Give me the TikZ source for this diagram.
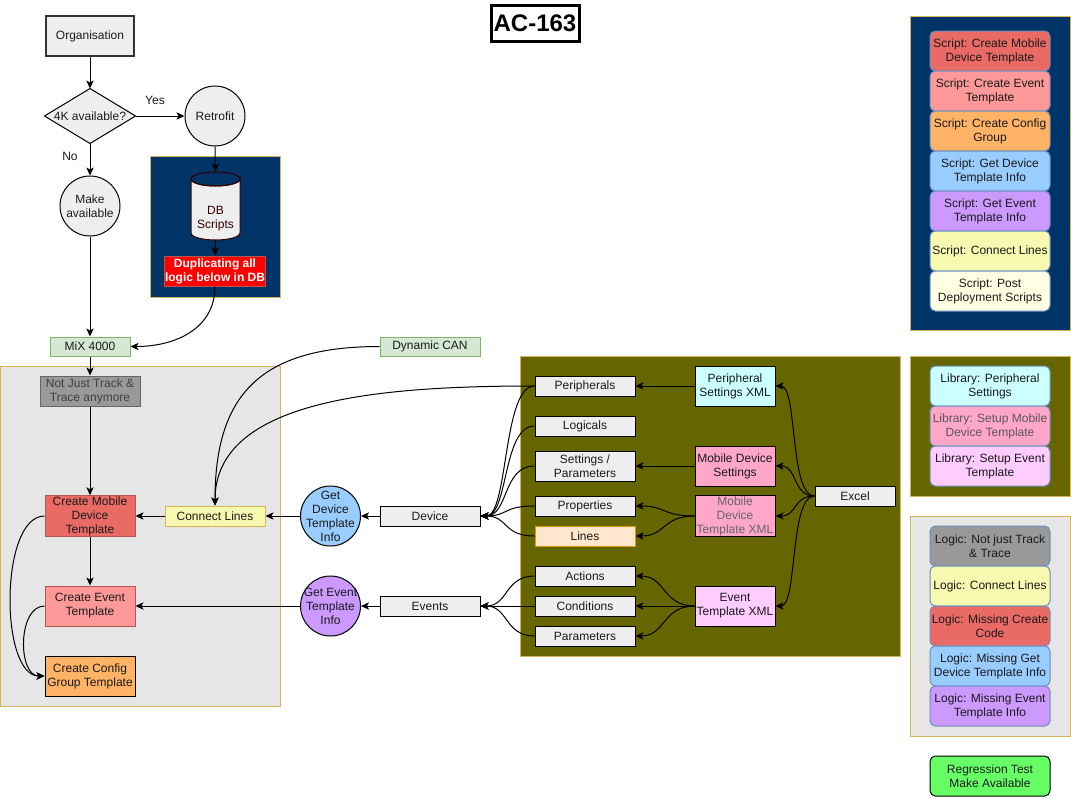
\documentclass[tikz,border=0pt]{standalone}
\usepackage{fontspec}
\setmainfont{Liberation Sans}
\usetikzlibrary{arrows.meta}
\definecolor{navy}{HTML}{003366}
\definecolor{olive}{HTML}{666600}
\definecolor{gold}{HTML}{D6B656}
\definecolor{regiongray}{HTML}{E6E6E6}
\definecolor{nodegray}{HTML}{EEEEEE}
\definecolor{cred}{HTML}{EA6B66}
\definecolor{credb}{HTML}{B85450}
\definecolor{clred}{HTML}{FF9999}
\definecolor{corange}{HTML}{FFB366}
\definecolor{cblue}{HTML}{99CCFF}
\definecolor{cpurple}{HTML}{CC99FF}
\definecolor{cyellow}{HTML}{F7F9B1}
\definecolor{cpale}{HTML}{FFFFE3}
\definecolor{ccyan}{HTML}{CCFFFF}
\definecolor{cpink}{HTML}{FFA6C9}
\definecolor{clpink}{HTML}{FFCCFF}
\definecolor{cpeach}{HTML}{FFE6CC}
\definecolor{cpeachb}{HTML}{D79B00}
\definecolor{cgreen}{HTML}{D5E8D4}
\definecolor{cgreenb}{HTML}{82B366}
\definecolor{cgray}{HTML}{999999}
\definecolor{cgrayb}{HTML}{666666}
\definecolor{lgborder}{HTML}{6C8EBF}
\definecolor{creg}{HTML}{66FF66}
\definecolor{txt}{HTML}{1A1A1A}
\definecolor{dbtxt}{HTML}{330000}
\begin{document}
\begin{tikzpicture}[x=0.75pt,y=-0.75pt,
  font=\fontsize{9pt}{10.5pt}\selectfont,
  line width=0.75pt,
  sz/.style 2 args={minimum width=#1*0.75pt,minimum height=#2*0.75pt},
  box/.style={draw=black,fill=nodegray,inner sep=0.5pt,align=center,text=txt},
  circ/.style={circle,draw=black,fill=nodegray,minimum size=45pt,inner sep=-10pt,align=center,text=txt},
  region/.style={draw=gold,line width=0.75pt},
  legend/.style={draw=lgborder,rounded corners=4pt,sz={120}{40},inner sep=0.5pt,align=center,text=txt},
  arr/.style={-{Stealth[length=6pt,width=5.5pt,inset=1.5pt]},line width=0.75pt,black}
]
\useasboundingbox (0,0) rectangle (1071,797);
\fill[white] (0,0) rectangle (1071,797);

% background regions
\draw[region,fill=navy] (150,156) rectangle (280,297);
\draw[region,fill=regiongray] (0.5,366) rectangle (280,706);
\draw[region,fill=olive] (520,356) rectangle (900,656);
\draw[region,fill=navy] (910,16) rectangle (1070,330);
\draw[region,fill=olive] (910,356) rectangle (1070,496);
\draw[region,fill=regiongray] (910,516) rectangle (1070,736);

% title
\node[draw=black,line width=2.25pt,sz={88}{36},inner sep=0pt,font=\fontsize{18pt}{20pt}\selectfont\bfseries] (title) at (535,23) {AC-163};

% left flow
\node[box,draw=black!80,line width=1.5pt,sz={88}{40}] (org) at (90,36) {Organisation};
\node[sz={90}{54},inner sep=0pt,text=txt] (dia) at (90,116) {};
\draw[fill=nodegray] (dia.west) -- (dia.north) -- (dia.east) -- (dia.south) -- cycle;
\node[text=txt] (diatxt) at (dia.center) {4K available?};
\node[circ] (retro) at (215,116) {Retrofit};
\node[circ] (make) at (90,206) {Make\\available};
\node[text=txt] (yes) at (155,100) {Yes};
\node[text=txt] (no) at (70,156) {No};

\node[sz={49}{68},inner sep=0pt] (db) at (215.5,206) {};
\draw[draw=dbtxt,fill=nodegray] (191,179) -- (191,233) arc[start angle=180,end angle=0,x radius=24.5,y radius=7] -- (240,179) arc[start angle=0,end angle=180,x radius=24.5,y radius=7] -- cycle;
\draw[draw=dbtxt] (215.5,179) ellipse[x radius=24.5,y radius=7];
\node[text=dbtxt,align=center] (dbtext) at (215.5,219) {DB\\Scripts};

\node[box,fill=red,draw=credb,text=white,font=\fontsize{9pt}{10.5pt}\selectfont\bfseries,sz={100}{30}] (dup) at (215,271) {Duplicating all\\logic below in DB};

\node[box,fill=cgreen,draw=cgreenb,sz={80}{19}] (mix) at (90,346.5) {MiX 4000};
\node[box,fill=cgreen,draw=cgreenb,sz={100}{19}] (dyn) at (430,346.5) {Dynamic CAN};

\node[box,fill=cgray,draw=cgrayb,text=black!75,sz={100}{30}] (njt) at (90,391) {Not Just Track \&\\Trace anymore};
\node[box,fill=cred,draw=credb,sz={90}{40}] (cmdt) at (90,516) {Create Mobile\\Device\\Template};
\node[box,fill=cyellow,draw=gold,sz={100}{20}] (cl) at (215,516) {Connect Lines};
\node[box,fill=clred,draw=credb,sz={90}{40}] (cet) at (90,606) {Create Event\\Template};
\node[box,fill=corange,draw=black,sz={90}{40}] (ccg) at (90,676) {Create Config\\Group Template};

\node[circ,fill=cblue] (gdti) at (330.5,516) {Get\\Device\\Template\\Info};
\node[circ,fill=cpurple] (geti) at (330.5,606) {Get Event\\Template\\Info};
\node[box,sz={100}{20}] (dev) at (430,516) {Device};
\node[box,sz={100}{20}] (evs) at (430,606) {Events};

% olive region nodes
\node[box,sz={100}{20}] (peri) at (585,386) {Peripherals};
\node[box,sz={100}{20}] (logi) at (585,426) {Logicals};
\node[box,sz={100}{30}] (setp) at (585,466) {Settings /\\Parameters};
\node[box,sz={100}{20}] (prop) at (585,506) {Properties};
\node[box,fill=cpeach,draw=cpeachb,sz={100}{20}] (lines) at (585,536) {Lines};
\node[box,sz={100}{20}] (act) at (585,576) {Actions};
\node[box,sz={100}{20}] (cond) at (585,606) {Conditions};
\node[box,sz={100}{20}] (par) at (585,636) {Parameters};

\node[box,fill=ccyan,sz={80}{40}] (psx) at (735,386) {Peripheral\\Settings XML};
\node[box,fill=cpink,sz={80}{40}] (mds) at (735,466) {Mobile Device\\Settings};
\node[box,fill=cpink,text=black!60,sz={80}{40}] (mdtx) at (735,516) {Mobile\\Device\\Template XML};
\node[box,fill=clpink,sz={80}{40}] (etx) at (735,606) {Event\\Template XML};
\node[box,sz={80}{20}] (excel) at (855,496) {Excel};

% legends
\node[legend,fill=cred] (l1) at (990,51) {Script: Create Mobile\\Device Template};
\node[legend,fill=clred] (l2) at (990,91) {Script: Create Event\\Template};
\node[legend,fill=corange] (l3) at (990,131) {Script: Create Config\\Group};
\node[legend,fill=cblue] (l4) at (990,171) {Script: Get Device\\Template Info};
\node[legend,fill=cpurple] (l5) at (990,211) {Script: Get Event\\Template Info};
\node[legend,fill=cyellow] (l6) at (990,251) {Script: Connect Lines};
\node[legend,fill=cpale] (l7) at (990,291) {Script: Post\\Deployment Scripts};

\node[legend,fill=ccyan] (b1) at (990,386) {Library: Peripheral\\Settings};
\node[legend,fill=cpink,text=black!65] (b2) at (990,426) {Library: Setup Mobile\\Device Template};
\node[legend,fill=clpink] (b3) at (990,466) {Library: Setup Event\\Template};

\node[legend,fill=cgray] (g1) at (990,546) {Logic: Not just Track\\\& Trace};
\node[legend,fill=cyellow] (g2) at (990,586) {Logic: Connect Lines};
\node[legend,fill=cred] (g3) at (990,626) {Logic: Missing Create\\Code};
\node[legend,fill=cblue] (g4) at (990,666) {Logic: Missing Get\\Device Template Info};
\node[legend,fill=cpurple] (g5) at (990,706) {Logic: Missing Event\\Template Info};

\node[legend,fill=creg,draw=black] (reg) at (990,776) {Regression Test\\Make Available};

% connectors
\draw[arr] (org.south) -- (dia.north);
\draw[arr] (dia.east) -- (retro.west);
\draw[arr] (dia.south) -- (make.north);
\draw[arr] (retro.south) -- (db.north);
\draw[arr] (db.south) -- (dup.north);
\draw[arr] (dup.south) .. controls +(0,42) and +(45,0) .. (mix.east);
\draw[arr] (make.south) -- (mix.north);
\draw[arr] (mix.south) -- (njt.north);
\draw[arr] (njt.south) -- (cmdt.north);
\draw[arr] (cl.west) -- (cmdt.east);
\draw[arr] (cmdt.south) -- (cet.north);
\draw[arr] (cmdt.west) .. controls +(-45,0) and +(-45,0) .. (ccg.west);
\draw[arr] (cet.west) .. controls +(-27,0) and +(-27,0) .. (ccg.west);
\draw[arr] (dyn.west) .. controls +(-120,0) and +(0,-110) .. (cl.north);
\draw[arr] (peri.west) .. controls +(-155,0) and +(0,-106) .. (cl.north);
\draw[arr] (gdti.west) -- (cl.east);
\draw[arr] (dev.west) -- (gdti.east);
\draw[arr] (geti.west) -- (cet.east);
\draw[arr] (evs.west) -- (geti.east);

\foreach \n in {peri,logi,setp,prop,lines}
  \draw[arr] (\n.west) .. controls +(-32,0) and +(28,0) .. (dev.east);
\draw[arr] (act.west) .. controls +(-30,0) and +(28,0) .. (evs.east);
\draw[arr] (cond.west) -- (evs.east);
\draw[arr] (par.west) .. controls +(-30,0) and +(28,0) .. (evs.east);

\draw[arr] (psx.west) -- (peri.east);
\draw[arr] (mds.west) -- (setp.east);
\draw[arr] (mdtx.west) .. controls +(-32,0) and +(30,0) .. (prop.east);
\draw[arr] (mdtx.west) .. controls +(-32,0) and +(30,0) .. (lines.east);
\draw[arr] (etx.west) .. controls +(-32,0) and +(30,0) .. (act.east);
\draw[arr] (etx.west) -- (cond.east);
\draw[arr] (etx.west) .. controls +(-32,0) and +(30,0) .. (par.east);

\draw[arr] (excel.west) .. controls +(-25,0) and +(22,0) .. (psx.east);
\draw[arr] (excel.west) .. controls +(-22,0) and +(22,0) .. (mds.east);
\draw[arr] (excel.west) .. controls +(-22,0) and +(22,0) .. (mdtx.east);
\draw[arr] (excel.west) .. controls +(-25,0) and +(22,0) .. (etx.east);
\end{tikzpicture}
\end{document}
